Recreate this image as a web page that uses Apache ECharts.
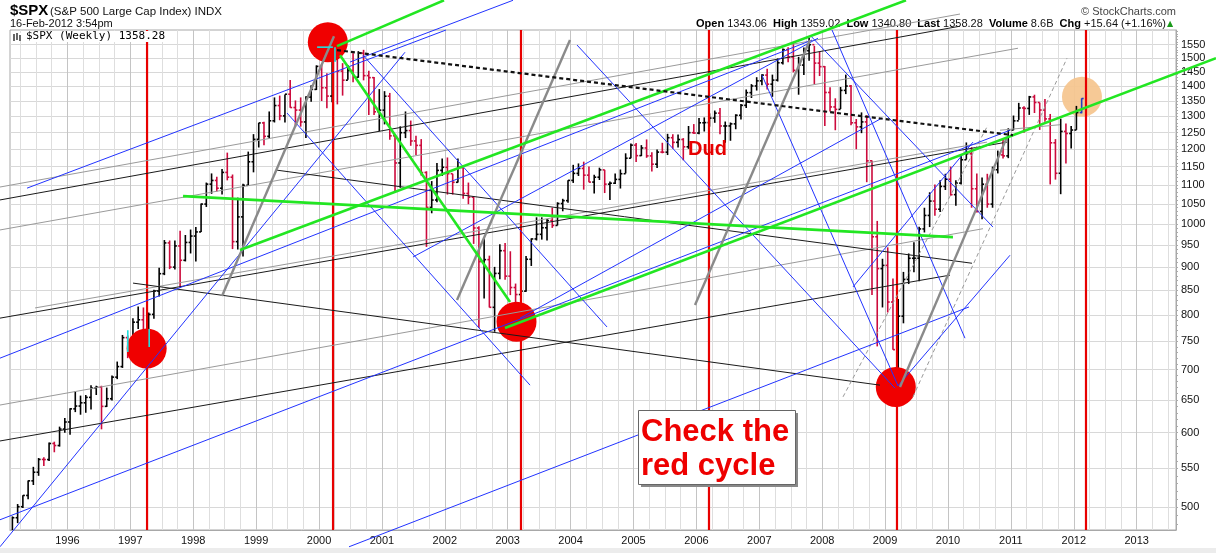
<!DOCTYPE html>
<html><head><meta charset="utf-8">
<script src="https://cdn.jsdelivr.net/npm/echarts@6/dist/echarts.min.js"></script>
<style>html,body{margin:0;padding:0;background:#fff;}#c{width:1216px;height:553px;}</style>
</head><body><div id="c"></div>
<script>
// ---- monthly S&P 500 bars, Feb 1995 .. Feb 2012 ----
const startYear = 1995, startMonth = 2;
const firstOpen = 470.42;
const closes = [
 487.39,500.71,514.71,533.40,544.75,562.06,561.88,584.41,581.50,605.37,615.93,
 636.02,640.43,645.50,654.17,669.12,670.63,639.95,651.99,687.33,705.27,757.02,740.74,
 786.16,790.82,757.12,801.34,848.28,885.14,954.29,899.47,947.28,914.62,955.40,970.43,
 980.28,1049.34,1101.75,1111.75,1090.82,1133.84,1120.67,957.28,1017.01,1098.67,1163.63,1229.23,
 1279.64,1238.33,1286.37,1335.18,1301.84,1372.71,1328.72,1320.41,1282.71,1362.93,1388.91,1469.25,
 1394.46,1366.42,1498.58,1452.43,1420.60,1454.60,1430.83,1517.68,1436.51,1429.40,1314.95,1320.28,
 1366.01,1239.94,1160.33,1249.46,1255.82,1224.42,1211.23,1133.58,1040.94,1059.78,1139.45,1148.08,
 1130.20,1106.73,1147.39,1076.92,1067.14,989.82,911.62,916.07,815.28,885.76,936.31,879.82,
 855.70,841.15,848.18,916.92,963.59,974.50,990.31,1008.01,995.97,1050.71,1058.20,1111.92,
 1131.13,1144.94,1126.21,1107.30,1120.68,1140.84,1101.72,1104.24,1114.58,1130.20,1173.82,1211.92,
 1181.27,1203.60,1180.59,1156.85,1191.50,1191.33,1234.18,1220.33,1228.81,1207.01,1249.48,1248.29,
 1280.08,1280.66,1294.83,1310.61,1270.09,1270.20,1276.66,1303.82,1335.85,1377.94,1400.63,1418.30,
 1438.24,1406.82,1420.86,1482.37,1530.62,1503.35,1455.27,1473.99,1526.75,1549.38,1481.14,1468.36,
 1378.55,1330.63,1322.70,1385.59,1400.38,1280.00,1267.38,1282.83,1166.36,968.75,896.24,903.25,
 825.88,735.09,797.87,872.81,919.14,919.32,987.48,1020.62,1057.08,1036.19,1095.63,1115.10,
 1073.87,1104.49,1169.43,1186.69,1089.41,1030.71,1101.60,1049.33,1141.20,1183.26,1180.55,1257.64,
 1286.12,1327.22,1325.83,1363.61,1345.20,1320.64,1292.28,1218.89,1131.42,1253.30,1246.96,1257.60,
 1312.41,1358.28
];
const highs = [
 489,504,515,534,552,564,565,586,587,609,622,
 637,664,657,658,674,673,673,670,690,714,762,761,
 794,817,815,805,851,898,961,960,960,983,973,986,
 992,1051,1106,1131,1122,1143,1190,1128,1066,1103,1193,1245,
 1280,1283,1316,1362,1368,1372,1421,1352,1362,1366,1403,1473,
 1478,1445,1553,1527,1481,1474,1517,1525,1530,1454,1432,1390,
 1383,1377,1243,1269,1316,1287,1240,1230,1137,1110,1160,1173,
 1176,1130,1173,1147,1106,1070,994,965,925,900,951,954,
 935,864,895,924,965,1016,1016,1012,1040,1054,1063,1112,
 1155,1159,1164,1150,1127,1147,1141,1109,1131,1142,1188,1217,
 1218,1212,1229,1191,1199,1219,1246,1245,1244,1233,1270,1276,
 1295,1297,1310,1319,1327,1284,1281,1307,1340,1389,1407,1431,
 1441,1461,1440,1498,1535,1540,1556,1504,1539,1576,1545,1523,
 1471,1396,1359,1397,1440,1404,1292,1313,1304,1167,1007,918,
 944,875,832,889,930,956,993,1040,1080,1101,1112,1130,
 1150,1112,1181,1220,1206,1131,1120,1130,1150,1196,1227,1263,
 1303,1344,1333,1367,1371,1345,1357,1308,1230,1293,1278,1270,
 1334,1359
];
const lows = [
 469,481,499,510,528,540,553,560,572,580,600,
 597,631,627,630,635,658,605,639,649,684,703,720,
 737,773,756,733,793,837,882,895,894,855,912,930,
 912,980,1042,1076,1082,1074,1112,940,939,923,1097,1134,
 1205,1212,1232,1281,1288,1281,1328,1268,1268,1233,1348,1387,
 1350,1326,1346,1339,1368,1422,1413,1429,1420,1305,1305,1254,
 1275,1228,1081,1092,1233,1210,1183,1125,945,1026,1054,1124,
 1074,1074,1106,1063,1049,952,775,833,815,768,873,872,
 840,806,789,847,902,960,962,960,990,996,1031,1053,
 1105,1124,1087,1107,1077,1113,1078,1060,1102,1090,1131,1174,
 1163,1180,1175,1136,1146,1188,1183,1201,1205,1168,1201,1246,
 1245,1253,1268,1280,1245,1219,1225,1260,1290,1327,1360,1385,
 1403,1389,1364,1416,1476,1484,1448,1371,1439,1490,1407,1435,
 1270,1316,1257,1324,1373,1272,1200,1248,1107,840,741,815,
 805,735,667,784,863,888,869,979,992,1020,1029,1086,
 1071,1045,1101,1170,1040,1028,1011,1040,1040,1131,1173,1174,
 1257,1289,1249,1305,1311,1258,1283,1101,1114,1075,1159,1202,
 1258,1310
];

// ---- axes ----
const yearTicks = [1996,1997,1998,1999,2000,2001,2002,2003,2004,2005,2006,2007,2008,2009,2010,2011,2012,2013];
const priceTicks = [500,550,600,650,700,750,800,850,900,950,1000,1050,1100,1150,1200,1250,1300,1350,1400,1450,1500,1550];
const xMin = 1995.087, xMax = 2013.625, yMin = 473, yMax = 1606;
// drawing layer spanning the whole page width (same scale as the plot)
const xMinFull = 1994.928, xMaxFull = 2014.261;

// ---- annotations (date in years, price) ----
const cycleDates = [1997.266, 2000.223, 2003.211, 2006.200, 2009.189, 2012.194];
const cycleCircles = [[1997.26,737],[2000.14,1559],[2003.14,787],[2009.17,671]];
const currentCircle = [[2012.13,1364]];
const dottedTrend = [[2000.286,1529],[2011.033,1242]];
const greenLines = [
 [[2000.286,1544],[2001.987,1727]],
 [[2000.334,1510],[2003.037,826]],
 [[1997.838,1070],[2010.079,968]],
 [[1998.744,938],[2009.332,1727]],
 [[2002.957,775],[2014.261,1499]]
];
const grayThickLines = [
 [[1998.458,838],[2000.238,1582]],
 [[2002.194,830],[2003.990,1567]],
 [[2005.978,820],[2007.806,1567]],
 [[2009.237,671],[2010.938,1236]]
];
const grayDashedLines = [
 [[2008.331,655],[2010.636,1273]],
 [[2009.443,655],[2011.892,1499]]
];
const blackLines = [
 [[1994.928,1060],[2010.191,1621]],
 [[1994.928,794],[2010.938,1221]],
 [[1994.928,588],[2010.032,882]],
 [[1997.043,865],[2008.919,674]],
 [[1999.332,1140],[2010.382,908]]
];
const grayLines = [
 [[1994.928,1094],[2010.191,1670]],
 [[1994.928,985],[2011.113,1536]],
 [[1994.928,642],[2010.556,988]],
 [[1995.485,814],[2010.620,1221]],
 [[2010.827,1257],[2011.781,1274]]
];
const blueLines = [
 [[1995.358,1091],[2002.019,1606]],
 [[2000.493,1485],[2003.084,1727]],
 [[2000.700,1510],[2004.579,777]],
 [[1999.491,1311],[2003.355,674]],
 [[2004.102,1548],[2009.157,669]],
 [[2007.806,1586],[2010.715,992]],
 [[2007.043,1438],[2009.205,673]],
 [[2008.156,1606],[2010.270,756]],
 [[1994.928,720],[2007.838,1567]],
 [[1994.928,485],[2010.986,1257]],
 [[1994.928,454],[2001.367,1521]],
 [[2001.494,922],[2007.933,1574]],
 [[2003.196,794],[2008.951,1295]],
 [[2000.477,454],[2010.334,816]],
 [[2009.205,673],[2010.986,926]],
 [[2008.490,857],[2010.397,1221]]
];
const cyanLines = [
 [[1999.970,1540],[2000.220,1540]],
 [[2000.254,1540],[2000.254,1485]],
 [[1996.960,771],[1996.960,731]],
 [[1997.300,773],[1997.300,740]]
];

// ---- build ----
const bars = closes.map((c, i) => {
  const t = startYear + (startMonth - 1 + i + 0.5) / 12;
  const o = i === 0 ? firstOpen : closes[i - 1];
  return [t, o, highs[i], lows[i], c];
});
const quarterTicks = [];
for (let y = 1995.25; y < xMax; y += 0.25) if (!Number.isInteger(y)) quarterTicks.push(y);
const minorPriceTicks = [];
for (let p = 480; p <= 1600; p += 10) minorPriceTicks.push(p);

const series = [];
series.push({
  type: 'custom', xAxisIndex: 0, yAxisIndex: 0, z: 2, silent: true, clip: true,
  data: bars,
  renderItem(params, api) {
    const t = api.value(0), o = api.value(1), h = api.value(2), l = api.value(3), c = api.value(4);
    const pH = api.coord([t, h]), pL = api.coord([t, l]), pO = api.coord([t, o]), pC = api.coord([t, c]);
    let color = c >= o ? '#000000' : '#cc0a3c';
    if (params.dataIndex === bars.length - 1) color = '#2040c0';
    const st = { stroke: color, lineWidth: 1.6 };
    return { type: 'group', children: [
      { type: 'line', shape: { x1: pH[0], y1: pH[1], x2: pL[0], y2: pL[1] }, style: st },
      { type: 'line', shape: { x1: pO[0] - 2, y1: pO[1], x2: pO[0], y2: pO[1] }, style: st },
      { type: 'line', shape: { x1: pC[0], y1: pC[1], x2: pC[0] + 2, y2: pC[1] }, style: st }
    ]};
  }
});
cycleDates.forEach(d => series.push({
  type: 'line', xAxisIndex: 0, yAxisIndex: 0, data: [[d, yMin], [d, yMax]], symbol: 'none', silent: true, z: 3,
  lineStyle: { color: '#e80000', width: 2.2 }
}));
series.push({ type: 'scatter', xAxisIndex: 0, yAxisIndex: 0, data: cycleCircles, symbolSize: 40, z: 4, silent: true,
  itemStyle: { color: '#f00000', opacity: 1 } });
series.push({ type: 'scatter', xAxisIndex: 0, yAxisIndex: 0, data: currentCircle, symbolSize: 40, z: 1, silent: true,
  itemStyle: { color: '#f6c690', opacity: 0.95 } });
function addLines(list, style, z) {
  list.forEach(seg => series.push({
    type: 'line', xAxisIndex: 2, yAxisIndex: 2, data: seg, symbol: 'none', silent: true, clip: false, z: z,
    lineStyle: style
  }));
}
addLines(grayLines, { color: '#9a9a9a', width: 1 }, 5);
addLines(blackLines, { color: '#1a1a1a', width: 1 }, 5);
addLines(grayDashedLines, { color: '#999999', width: 1, type: [4, 3] }, 5);
addLines(blueLines, { color: '#2233ff', width: 1 }, 6);
addLines(grayThickLines, { color: '#8a8a8a', width: 2.4 }, 6);
addLines(cyanLines, { color: '#22dddd', width: 1.6 }, 6);
addLines(greenLines, { color: '#22e622', width: 2.6 }, 7);
addLines([dottedTrend], { color: '#111111', width: 2.2, type: [4, 3] }, 7);

const chart = echarts.init(document.getElementById('c'));
chart.setOption({
  animation: false,
  backgroundColor: '#ffffff',
  grid: [
    { left: 10, right: 40, top: 30, bottom: 23, show: true, borderColor: '#a8a8a8', borderWidth: 1 },
    { left: 0, right: 0, top: 30, bottom: 23, show: false }
  ],
  xAxis: [
    { type: 'value', gridIndex: 0, min: xMin, max: xMax,
      axisLine: { show: true, lineStyle: { color: '#a8a8a8' } },
      axisTick: { show: false, customValues: yearTicks },
      axisLabel: { customValues: yearTicks, formatter: v => String(Math.round(v)), color: '#111',
        fontFamily: 'Liberation Sans, Arial, sans-serif', fontSize: 11, margin: 5 },
      splitLine: { show: true, lineStyle: { color: '#c4c4c4', width: 1 } } },
    { type: 'value', gridIndex: 0, min: xMin, max: xMax, position: 'bottom',
      axisLine: { show: false }, axisTick: { show: false, customValues: quarterTicks },
      axisLabel: { show: false, customValues: quarterTicks },
      splitLine: { show: true, lineStyle: { color: '#dedede', width: 1 } } },
    { type: 'value', gridIndex: 1, min: xMinFull, max: xMaxFull, show: false,
      splitLine: { show: false } }
  ],
  yAxis: [
    { type: 'log', gridIndex: 0, position: 'right', min: yMin, max: yMax,
      axisLine: { show: true, lineStyle: { color: '#a8a8a8' } },
      axisTick: { show: false, customValues: priceTicks },
      axisLabel: { customValues: priceTicks, color: '#111', fontFamily: 'Liberation Sans, Arial, sans-serif',
        fontSize: 11, margin: 5, formatter: v => String(Math.round(v)) },
      splitLine: { show: true, lineStyle: { color: '#d8d8d8', width: 1 } } },
    { type: 'log', gridIndex: 0, position: 'right', min: yMin, max: yMax,
      axisLine: { show: false },
      axisTick: { show: true, inside: false, length: 2, customValues: minorPriceTicks, lineStyle: { color: '#aaa' } },
      axisLabel: { show: false, customValues: minorPriceTicks },
      splitLine: { show: false } },
    { type: 'log', gridIndex: 1, min: yMin, max: yMax, show: false, splitLine: { show: false } }
  ],
  graphic: [
    { type: 'text', style: { x: 10, y: 18, text: '$SPX', font: 'bold 15px "Liberation Sans", Arial', fill: '#000', verticalAlign: 'bottom' } },
    { type: 'text', style: { x: 50, y: 18, text: '(S&P 500 Large Cap Index) INDX', font: '11.5px "Liberation Sans", Arial', fill: '#111', verticalAlign: 'bottom' } },
    { type: 'text', style: { x: 10, y: 29, text: '16-Feb-2012 3:54pm', font: '11px "Liberation Sans", Arial', fill: '#111', verticalAlign: 'bottom' } },
    { type: 'text', style: { x: 1176, y: 17, text: '© StockCharts.com', font: '11px "Liberation Sans", Arial', fill: '#444', align: 'right', verticalAlign: 'bottom' } },
    { type: 'text', style: { x: 1166, y: 29, align: 'right', verticalAlign: 'bottom',
      text: '{b|Open} 1343.06  {b|High} 1359.02  {b|Low} 1340.80  {b|Last} 1358.28  {b|Volume} 8.6B  {b|Chg} +15.64 (+1.16%)',
      font: '11px "Liberation Sans", Arial', fill: '#111',
      rich: { b: { font: 'bold 11px "Liberation Sans", Arial', fill: '#000' } } } },
    { type: 'text', style: { x: 1167, y: 28, text: '▲', font: '8px "DejaVu Sans"', fill: '#1a9a1a', verticalAlign: 'bottom' } },
    { type: 'rect', shape: { x: 13, y: 33, width: 10, height: 8 }, style: { fill: '#fff' }, z: 100 },
    { type: 'polyline', shape: { points: [[14,34],[14,41]] }, style: { stroke: '#000', lineWidth: 1.2 }, z: 101 },
    { type: 'polyline', shape: { points: [[17,33],[17,40]] }, style: { stroke: '#000', lineWidth: 1.2 }, z: 101 },
    { type: 'polyline', shape: { points: [[20,35],[20,41]] }, style: { stroke: '#000', lineWidth: 1.2 }, z: 101 },
    { type: 'text', z: 101, style: { x: 26, y: 42, text: '$SPX (Weekly) 1358.28', font: '11px "DejaVu Sans Mono", monospace', fill: '#000', verticalAlign: 'bottom',
      backgroundColor: '#fff' } },
    { type: 'text', z: 101, style: { x: 688, y: 149, text: 'Dud', font: 'bold 20px "Liberation Sans", Arial', fill: '#e60000', verticalAlign: 'middle' } },
    { type: 'rect', z: 100, shape: { x: 641, y: 413, width: 157, height: 74 }, style: { fill: '#888' } },
    { type: 'rect', z: 101, shape: { x: 638.5, y: 410.5, width: 157, height: 74 }, style: { fill: '#fff', stroke: '#666', lineWidth: 1 } },
    { type: 'text', z: 102, style: { x: 641, y: 432, text: 'Check the', font: 'bold 31px "Liberation Sans", Arial', fill: '#ee0000', verticalAlign: 'middle' } },
    { type: 'text', z: 102, style: { x: 641, y: 466, text: 'red cycle', font: 'bold 31px "Liberation Sans", Arial', fill: '#ee0000', verticalAlign: 'middle' } },
    { type: 'rect', z: 0, shape: { x: 0, y: 548, width: 1216, height: 5 }, style: { fill: '#ececec' } }
  ],
  series: series
});
</script></body></html>
